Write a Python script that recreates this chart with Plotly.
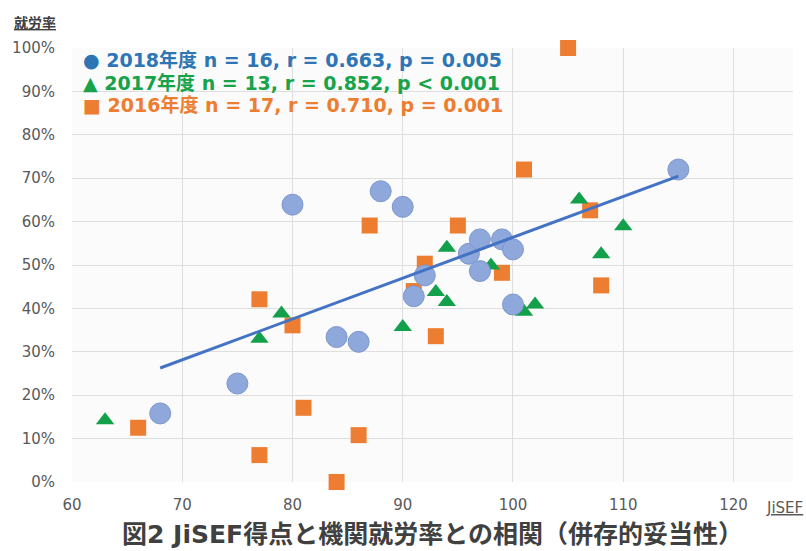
import numpy as np
import plotly.graph_objects as go

# 2018年度 (circles)
x2018 = [68, 75, 84, 86, 80, 88, 90, 92, 91, 96, 97, 97, 99, 100, 100, 115]
y2018 = [15.8, 22.7, 33.4, 32.3, 63.9, 67.0, 63.4, 47.6, 42.8, 52.6, 55.9, 48.6, 55.9, 53.6, 40.9, 72.0]
# 2017年度 (triangles)
x2017 = [63, 77, 79, 90, 93, 94, 94, 98, 101, 102, 106, 110, 108]
y2017 = [14.2, 33.0, 38.8, 35.7, 43.8, 41.5, 54.0, 49.9, 39.2, 40.9, 65.1, 58.9, 52.5]
# 2016年度 (squares)
x2016 = [66, 77, 84, 86, 81, 77, 80, 87, 92, 93, 95, 99, 101, 105, 107, 108, 91]
y2016 = [12.5, 6.2, 0.0, 10.8, 17.1, 42.1, 36.1, 59.1, 50.3, 33.6, 59.1, 48.2, 72.0, 100.0, 62.6, 45.3, 44.0]

legend_lines = [
    ("●", "2018年度 n = 16, r = 0.663, p = 0.005", "#2e75b6"),
    ("▲", "2017年度 n = 13, r = 0.852, p < 0.001", "#17a34a"),
    ("■", "2016年度 n = 17, r = 0.710, p = 0.001", "#ed7d31"),
]
x_ticks = [60, 70, 80, 90, 100, 110, 120]
y_ticks = [0, 10, 20, 30, 40, 50, 60, 70, 80, 90, 100]
title_text = "図2 JiSEF得点と機関就労率との相関（併存的妥当性）"
y_label = "就労率"
x_label = "JiSEF"

font_fam = "DejaVu Sans, Noto Sans CJK JP, sans-serif"
jp_fam = "Noto Sans CJK JP, sans-serif"

fig = go.Figure()

fig.add_trace(go.Scatter(
    x=x2016, y=y2016, mode="markers", cliponaxis=False,
    marker=dict(symbol="square", size=16, color="#ed7d31", line=dict(width=0)),
    showlegend=False))
fig.add_trace(go.Scatter(
    x=x2017, y=y2017, mode="markers", cliponaxis=False,
    marker=dict(symbol="triangle-up", size=16, color="#12a14a", line=dict(width=0)),
    showlegend=False))
fig.add_trace(go.Scatter(
    x=x2018, y=y2018, mode="markers", cliponaxis=False,
    marker=dict(symbol="circle", size=21, color="#8fa8dc", line=dict(width=1, color="#7d96cc")),
    showlegend=False))

# linear trend for 2018
slope, intercept = np.polyfit(x2018, y2018, 1)
tx = [min(x2018), max(x2018)]
ty = [slope * v + intercept for v in tx]
fig.add_trace(go.Scatter(x=tx, y=ty, mode="lines",
                         line=dict(color="#4472c4", width=3), showlegend=False))

for i, (sym, txt, col) in enumerate(legend_lines):
    fig.add_annotation(
        xref="paper", yref="paper", x=0.013, y=0.972 - i * 0.052,
        xanchor="left", yanchor="middle", showarrow=False,
        text=f"<b>{sym} {txt}</b>", font=dict(family=font_fam, size=19, color=col))

fig.add_annotation(xref="paper", yref="paper", x=0.50, y=-0.122, xanchor="center",
                   yanchor="middle", showarrow=False, text=f"<b>{title_text}</b>",
                   font=dict(family=font_fam, size=25, color="#404040"))
fig.add_annotation(xref="paper", yref="paper", x=-0.083, y=1.06, xanchor="left",
                   yanchor="middle", showarrow=False, text=f"<b><u>{y_label}</u></b>",
                   font=dict(family=jp_fam, size=14, color="#404040"))
fig.add_annotation(xref="paper", yref="paper", x=1.016, y=-0.06, xanchor="right",
                   yanchor="middle", showarrow=False, text=f"<u>{x_label}</u>",
                   font=dict(family=font_fam, size=15, color="#595959"))

fig.update_layout(
    width=806, height=551,
    margin=dict(l=72, r=13, t=48, b=69),
    paper_bgcolor="white", plot_bgcolor="#fbfbfb",
    font=dict(family=font_fam, size=15, color="#595959"),
    showlegend=False,
)
fig.update_xaxes(range=[60, 125.4], tickvals=x_ticks, ticktext=[str(v) for v in x_ticks],
                 showgrid=True, gridcolor="#dedede", gridwidth=1, zeroline=False,
                 showline=False, ticks="", ticklabelstandoff=12,
                 tickfont=dict(size=15, color="#595959"))
fig.update_yaxes(range=[0, 100], tickvals=y_ticks, ticktext=[f"{v}%" for v in y_ticks],
                 showgrid=True, gridcolor="#dedede", gridwidth=1, zeroline=False,
                 showline=False, ticks="", ticklabelstandoff=16,
                 tickfont=dict(size=15, color="#595959"))

fig.write_html("out.html", config={"displayModeBar": False},
               post_script="document.body.style.margin='0';")
